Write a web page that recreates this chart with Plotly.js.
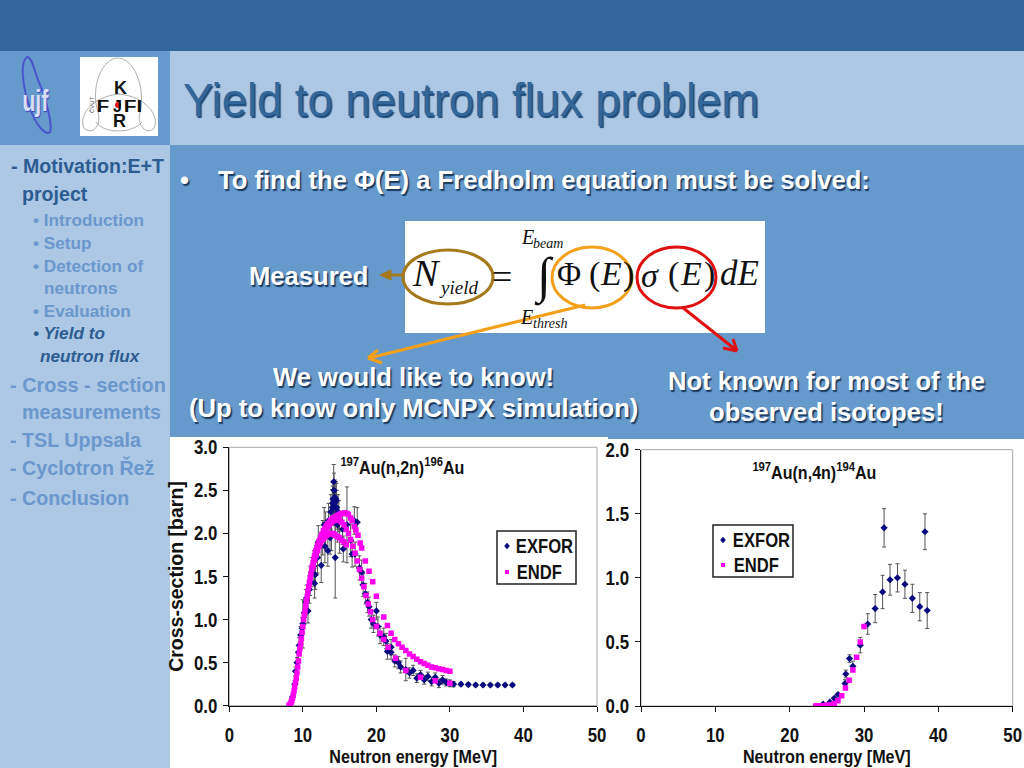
<!DOCTYPE html>
<html>
<head>
<meta charset="utf-8">
<script src="https://cdn.plot.ly/plotly-3.0.1.min.js"></script>
<style>html,body{margin:0;padding:0;background:#fff}#c{width:1024px;height:768px}</style>
</head>
<body>
<div id="c"></div>
<script>
// ---- Au(n,2n) EXFOR
const exfor1X = [8.3,8.6,8.9,9.0,9.2,9.4,9.5,9.7,9.9,10.0,10.2,10.4,10.5,10.7,10.9,11.0,11.2,11.5,11.6,11.7,12.0,12.1,12.5,12.7,12.9,13.0,13.1,13.4,13.5,13.7,13.8,13.9,14.0,14.05,14.1,14.15,14.2,14.25,14.3,14.35,14.4,14.4,14.45,14.5,14.55,14.6,14.7,14.8,14.9,15.0,15.4,15.5,16.0,16.5,16.7,17.0,17.1,17.4,17.7,18.0,18.2,18.5,18.8,19.0,19.3,19.6,20.0,20.2,20.5,21.0,21.3,21.5,22.0,22.0,22.5,23.0,23.3,24.0,24.5,25.0,25.5,26.0,26.5,27.0,27.5,28.0,28.5,29.0,29.5,30.0,30.5,31.5,32.5,33.5,34.5,35.5,36.5,37.5,38.5];
const exfor1Y = [0.02,0.10,0.25,0.40,0.50,0.62,0.70,0.82,0.90,0.95,1.08,1.20,1.25,1.10,1.35,1.45,1.55,1.62,1.42,1.52,1.72,1.90,1.63,1.95,2.10,1.85,2.05,1.80,2.15,1.95,2.25,2.00,2.30,2.35,2.40,2.30,2.60,2.50,2.35,2.42,2.20,1.72,2.30,2.40,2.38,2.30,2.10,2.25,2.20,1.95,2.05,1.82,2.10,1.92,1.76,2.15,1.76,2.13,1.60,1.55,1.40,1.30,1.20,1.15,1.00,0.95,1.10,0.92,0.82,0.80,0.75,0.63,0.62,0.68,0.52,0.50,0.45,0.42,0.38,0.41,0.32,0.36,0.30,0.34,0.28,0.33,0.26,0.30,0.27,0.26,0.25,0.25,0.245,0.24,0.24,0.24,0.24,0.24,0.24];
const exfor1Err = [0.01,0.02,0.04,0.05,0.06,0.08,0.09,0.10,0.12,0.28,0.14,0.15,0.15,0.14,0.16,0.17,0.17,0.18,0.17,0.17,0.18,0.19,0.20,0.20,0.20,0.19,0.20,0.18,0.20,0.19,0.20,0.20,0.21,0.20,0.20,0.20,0.20,0.20,0.20,0.20,0.20,0.47,0.20,0.20,0.20,0.20,0.20,0.20,0.18,0.18,0.18,0.15,0.44,0.19,0.15,0.16,0.14,0.17,0.14,0.14,0.13,0.12,0.12,0.11,0.10,0.10,0.10,0.11,0.10,0.10,0.09,0.09,0.08,0.09,0.07,0.07,0.07,0.13,0.06,0.06,0.05,0.05,0.05,0.05,0.05,0.05,0.05,0.05,0.04,0.04,0.03,0.02,0.02,0.02,0.02,0.02,0.02,0.02,0.02];
// ---- Au(n,2n) ENDF (three evaluations)
const endfUpperX = [8.1,8.2,8.3,8.4,8.5,8.6,8.7,8.8,8.9,9.0,9.1,9.2,9.3,9.4,9.5,9.6,9.7,9.8,9.9,10.0,10.1,10.2,10.3,10.4,10.5,10.6,10.7,10.8,10.9,11.0,11.1,11.2,11.3,11.4,11.5,11.6,11.7,11.8,11.9,12.0,12.2,12.4,12.6,12.8,13.0,13.2,13.4,13.6,13.8,14.0,14.2,14.4,14.6,14.8,15.0,15.2,15.4,15.7,16.0,16.2,16.5,16.7,17.0,17.2,17.5,17.8,18.0,18.5,19.0,19.5,20.0,21.0,21.5,22.0,22.5,23.0,23.5,24.0,24.5,25.0,25.5,26.0,26.5,27.0,27.5,28.0,28.5,29.0,29.5,30.0];
const endfUpperY = [0.00,0.01,0.02,0.04,0.06,0.09,0.13,0.17,0.22,0.27,0.32,0.38,0.45,0.52,0.60,0.66,0.72,0.78,0.85,0.92,1.00,1.05,1.10,1.16,1.22,1.27,1.33,1.38,1.43,1.48,1.53,1.58,1.62,1.66,1.70,1.74,1.77,1.80,1.83,1.86,1.91,1.95,1.99,2.03,2.06,2.09,2.11,2.13,2.15,2.17,2.18,2.19,2.20,2.21,2.22,2.23,2.23,2.24,2.23,2.22,2.18,2.15,2.08,2.04,1.98,1.89,1.83,1.68,1.56,1.44,1.27,1.03,0.93,0.84,0.77,0.72,0.68,0.64,0.60,0.57,0.54,0.51,0.49,0.47,0.45,0.44,0.43,0.42,0.41,0.40];
const endfMidX = [11.6,11.8,12.0,12.2,12.4,12.6,12.8,13.0,13.2,13.4,13.6,13.8,14.0,14.2,14.4,14.6,14.8,15.0,15.3,15.6,15.9,16.2,16.5,16.8,17.1,17.4,17.7,18.0,18.3,18.6,18.9,19.2,19.5,20.0,20.5,21.0,21.6,22.6,24.0,26.0,28.0,30.0];
const endfMidY = [1.72,1.79,1.84,1.89,1.93,1.97,2.00,2.03,2.05,2.08,2.10,2.12,2.14,2.15,2.16,2.16,2.16,2.15,2.13,2.10,2.05,2.00,1.93,1.85,1.77,1.68,1.58,1.48,1.38,1.28,1.18,1.09,1.00,0.92,0.84,0.77,0.68,0.55,0.41,0.33,0.29,0.26];
const endfLowerX = [11.4,11.6,11.8,12.0,12.2,12.4,12.6,12.8,13.0,13.2,13.4,13.6,13.8,14.0,14.2,14.4,14.6,14.8,15.0,15.3,15.6,15.9];
const endfLowerY = [1.62,1.69,1.75,1.80,1.85,1.89,1.92,1.94,1.96,1.98,1.99,2.00,2.00,2.00,1.99,1.98,1.97,1.96,1.95,1.92,1.90,1.87];
// ---- Au(n,4n)
const exfor2X = [24.5,25.4,26.0,26.5,27.45,27.55,28.05,28.5,29.5,30.5,31.5,32.5,32.7,33.5,34.5,35.5,36.5,37.5,38.2,38.5];
const exfor2Y = [0.015,0.03,0.06,0.09,0.175,0.25,0.37,0.31,0.475,0.64,0.76,0.89,1.39,0.985,1.00,0.95,0.84,0.775,1.36,0.745];
const exfor2Err = [0.005,0.005,0.01,0.01,0.03,0.03,0.03,0.04,0.06,0.08,0.11,0.13,0.15,0.12,0.11,0.11,0.11,0.11,0.14,0.14];
const endf2X = [23.5,23.75,24.0,24.25,24.5,24.75,25.0,25.5,26.0,26.5,27.0,27.5,28.0,28.5,29.0,29.5,30.0];
const endf2Y = [0.0,0.0,0.0,0.0,0.0,0.002,0.005,0.01,0.02,0.04,0.08,0.14,0.20,0.28,0.38,0.50,0.62];
// ---- Text
const seriesNames = ['EXFOR','ENDF'];
const xTitle = 'Neutron energy [MeV]';
const yTitle = 'Cross-section [barn]';
const slideTitle = 'Yield to neutron flux problem';
const bulletLine = 'To find the Φ(E) a Fredholm equation must be solved:';

const W=1024,H=768;
const px=x=>x/W, py=y=>1-y/H;
const SANS='"Liberation Sans", Arial, sans-serif';
const SERIF='"Liberation Serif", "Times New Roman", serif';
const NAVY='#0a0a80', MAG='#ff00f0', BLUE='#6699cc', LIGHT='#adc8e4';
const WSH='1.5px 1.5px 1px #1a3a60';
const BROWN='#a47a1c', ORANGE='#f5a01a', RED='#e01010';

const rect=(x0,y0,x1,y1,fill,lineCol,lw,layer)=>({type:'rect',xref:'paper',yref:'paper',x0:px(x0),x1:px(x1),y0:py(y1),y1:py(y0),fillcolor:fill,line:{width:lw||0,color:lineCol||fill},layer:layer||'below'});
const oval=(x0,y0,x1,y1,col,lw)=>({type:'circle',xref:'paper',yref:'paper',x0:px(x0),x1:px(x1),y0:py(y1),y1:py(y0),line:{width:lw,color:col},layer:'above'});
const P=(a,b)=>px(a).toFixed(5)+','+py(b).toFixed(5);
const curve=(d,col,lw,fill)=>({type:'path',xref:'paper',yref:'paper',path:d,line:{width:lw,color:col},fillcolor:fill||'rgba(0,0,0,0)',layer:'above'});
const seg=(a,b,c,d,col,w)=>({type:'line',xref:'paper',yref:'paper',x0:px(a),y0:py(b),x1:px(c),y1:py(d),line:{width:w,color:col},layer:'above'});
const keyDiamond=(x,y)=>curve('M'+P(x,y-3)+' L'+P(x+2.5,y)+' L'+P(x,y+3)+' L'+P(x-2.5,y)+' Z',NAVY,0.5,NAVY);
const keySquare=(x,y)=>rect(x-2,y-2,x+2,y+2,MAG,MAG,0,'above');

const shapes=[
 rect(0,0,1024,51,'#336699'),
 rect(0,51,170,145,BLUE),
 rect(170,51,1024,145,LIGHT),
 rect(0,145,170,768,LIGHT),
 rect(170,145,1024,437,BLUE),
 rect(608,437,1024,439,BLUE),
 rect(170,437,608,768,'#ffffff'),
 rect(608,439,1024,768,'#ffffff'),
 rect(229.3,447.3,597,705.7,'rgba(0,0,0,0)','#a8a8a8',1),
 rect(641,449.7,1012.7,706,'rgba(0,0,0,0)','#a8a8a8',1),
 rect(405,221,765,333,'#ffffff'),
 // legend boxes and keys
 rect(497,531,576,584,'#ffffff','#222',1.5,'above'),
 rect(713,525,793,577,'#ffffff','#222',1.5,'above'),
 keyDiamond(507,546), keySquare(507,572),
 keyDiamond(723,540), keySquare(723,565),
 // logos
 rect(80,57,158,136,'#ffffff'),
 curve('M'+P(118,58)+' C'+P(102,58)+' '+P(90,88)+' '+P(98,112)+' C'+P(102,126)+' '+P(92,136)+' '+P(84,128)+' C'+P(78,116)+' '+P(92,96)+' '+P(120,94),'#9a9a9a',0.8),
 curve('M'+P(118,58)+' C'+P(134,58)+' '+P(146,88)+' '+P(140,112)+' C'+P(136,126)+' '+P(148,136)+' '+P(154,128)+' C'+P(160,116)+' '+P(146,96)+' '+P(118,94),'#9a9a9a',0.8),
 curve('M'+P(96,122)+' C'+P(104,134)+' '+P(132,134)+' '+P(142,122),'#9a9a9a',0.8),
 curve('M'+P(27,57)+' C'+P(20,62)+' '+P(22,85)+' '+P(30,108)+' C'+P(36,126)+' '+P(46,136)+' '+P(50,132)+' C'+P(53,125)+' '+P(45,95)+' '+P(38,80)+' C'+P(34,68)+' '+P(31,56)+' '+P(27,57),'#4a55cc',2),
 // equation circles
 oval(403,250,493,304,BROWN,3),
 oval(552,247,632,308,ORANGE,3),
 oval(637,247,716,308,RED,3),
 // arrows
 seg(404,275,386,275,BROWN,3),
 curve('M'+P(380,275)+' L'+P(391,270)+' L'+P(391,280)+' Z',BROWN,1,BROWN),
 seg(585,305,369,358,ORANGE,3),
 seg(368,358,378,350,ORANGE,3),
 seg(368,358,382,363,ORANGE,3),
 seg(682,307,736,350,RED,3),
 seg(737,351,723,348,RED,3),
 seg(737,351,733,339,RED,3)
];

const T=(text,x,y,size,color,o)=>Object.assign({text,x:px(x),y:py(y),xref:'paper',yref:'paper',showarrow:false,xanchor:'left',yanchor:'middle',borderpad:0,font:{family:SANS,size,color}},o||{});
const B=(text,x,y,size,color,extra)=>{const a=T(text,x,y,size,color,extra&&extra.a);a.font.weight='bold';Object.assign(a.font,(extra&&extra.f)||{});return a;};
const SB={f:{shadow:WSH}};
const CEN={a:{xanchor:'center'},f:{shadow:WSH}};
const MC={a:{xanchor:'center'}};
const DK='#2c5c90', MID='#6a97cc';
const Q=(text,x,y,size)=>T(text,x,y,size,'#111',{font:{family:SERIF,size,color:'#111'}});

const annotations=[
 T(slideTitle,182,101,45.4,'#336699',{font:{family:SANS,size:45.4,color:'#336699',shadow:'1.5px 1.5px 1px #1d4a78'}}),
 // sidebar
 B('- Motivation:E+T',10,166,19.6,DK),
 B('project',21,194,19.6,DK),
 B('• Introduction',32,220,17.2,MID),
 B('• Setup',32,243,17.2,MID),
 B('• Detection of',32,266,17.2,MID),
 B('neutrons',43,288,17.2,MID),
 B('• Evaluation',32,311,17.2,MID),
 B('• Yield to',32,333,17.2,DK,{f:{style:'italic'}}),
 B('neutron flux',39,356,17.2,DK,{f:{style:'italic'}}),
 B('- Cross - section',9,385,19.9,MID),
 B('measurements',21,412,19.7,MID),
 B('- TSL Uppsala',9,440,19.7,MID),
 B('- Cyclotron Řež',9,467,19.7,MID),
 B('- Conclusion',9,498,19.7,MID),
 // main text
 B('•',179,180,25.6,'#ffffff',SB),
 B(bulletLine,217,180,25.6,'#ffffff',SB),
 B('Measured',248,276,25.6,'#ffffff',SB),
 B('We would like to know!',413.5,377,25.6,'#ffffff',CEN),
 B('(Up to know only MCNPX simulation)',413.5,408,25.6,'#ffffff',CEN),
 B('Not known for most of the',826.5,381,25.6,'#ffffff',CEN),
 B('observed isotopes!',826.5,412,25.6,'#ffffff',CEN),
 // equation
 Q('<i>N</i>',411,273,38),
 Q('<i>yield</i>',438,287,19),
 Q('=',491,277,36),
 Q('∫',533,277,50),
 Q('<i>E</i>',520,237,20),
 Q('<i>beam</i>',532,243,14),
 Q('<i>E</i>',519,317,20),
 Q('<i>thresh</i>',532,323,14),
 Q('Φ',556,274,33),
 Q('(',588,274,34),
 Q('<i>E</i>',599,274,34),
 Q(')',622,274,34),
 Q('<i>σ</i>',640,275,34),
 Q('(',667,274,34),
 Q('<i>E</i>',679,274,34),
 Q(')',703,274,34),
 Q('<i>dE</i>',719,274,35),
 // logos
 B('K',113,88,18,'#111'),
 B('F',97,107,16,'#111'),
 B('J',112,107,16,'#111'),
 B('FI',125,107,16,'#111'),
 B('R',112,121,18,'#111'),
 T('ČVUT',92,105,6,'#555',{textangle:-90,xanchor:'center'}),
 B('ujf',36,100,30,'#d7def5',{a:{xanchor:'center'},f:{shadow:'1px 1px 1px #3344bb'}}),
 // chart titles
 B('<sup>197</sup>Au(n,2n)<sup>196</sup>Au',402.5,466,19,'#111',MC),
 B('<sup>197</sup>Au(n,4n)<sup>194</sup>Au',814.5,471,19,'#111',MC),
 // legend text
 B(seriesNames[0],544,546,20,'#111',MC),
 B(seriesNames[1],538.5,572,20,'#111',MC),
 B(seriesNames[0],761,540,20,'#111',MC),
 B(seriesNames[1],755.5,565,20,'#111',MC)
];
// red dot of the KFJFI logo sits over its letters
shapes.push({type:'circle',xref:'paper',yref:'paper',x0:px(115),x1:px(121),y0:py(108),y1:py(102),fillcolor:'#e01818',line:{width:0},layer:'above'});

const errStyle={type:'data',visible:true,color:'#555',thickness:1,width:2};
const mExfor={symbol:'diamond',size:5.5,color:NAVY};
const mEndf={symbol:'square',size:5.5,color:MAG};
const endfLine=(xs,ys)=>({x:xs,y:ys,xaxis:'x',yaxis:'y',mode:'markers',type:'scatter',name:seriesNames[1],marker:mEndf});
const data=[
 {x:exfor1X,y:exfor1Y,xaxis:'x',yaxis:'y',mode:'markers',type:'scatter',name:seriesNames[0],marker:mExfor,error_y:Object.assign({array:exfor1Err},errStyle)},
 endfLine(endfUpperX,endfUpperY),
 endfLine(endfMidX,endfMidY),
 endfLine(endfLowerX,endfLowerY),
 {x:exfor2X,y:exfor2Y,xaxis:'x2',yaxis:'y2',mode:'markers',type:'scatter',name:seriesNames[0],marker:mExfor,error_y:Object.assign({array:exfor2Err},errStyle)},
 {x:endf2X,y:endf2Y,xaxis:'x2',yaxis:'y2',mode:'markers',type:'scatter',name:seriesNames[1],marker:mEndf}
];

const tickF={family:SANS,size:20,color:'#111',weight:'bold'};
const xAx=(l,r,anc)=>({domain:[px(l),px(r)],range:[0,50],dtick:10,tick0:0,anchor:anc,showgrid:false,zeroline:false,showline:true,linecolor:'#111',linewidth:1,ticks:'outside',ticklen:5,tickcolor:'#111',tickfont:tickF,ticklabelstandoff:6,title:{text:xTitle,font:{family:SANS,size:19,color:'#111',weight:'bold'},standoff:2}});
const yAx=(t,b,max,anc)=>({domain:[py(b),py(t)],range:[0,max],dtick:0.5,tick0:0,tickformat:'.1f',anchor:anc,showgrid:false,zeroline:false,showline:true,linecolor:'#111',linewidth:1,ticks:'outside',ticklen:5,tickcolor:'#111',tickfont:tickF,ticklabelstandoff:2});

const y1=yAx(447.3,705.7,3,'x');
y1.title={text:yTitle,font:{family:SANS,size:19.5,color:'#111',weight:'bold'},standoff:0};

const layout={
 width:W,height:H,margin:{l:0,r:0,t:0,b:0,pad:0},autosize:false,
 paper_bgcolor:'#ffffff',plot_bgcolor:'rgba(0,0,0,0)',
 showlegend:false,hovermode:false,
 xaxis:xAx(229.3,597,'y'),yaxis:y1,
 xaxis2:xAx(641,1012.7,'y2'),yaxis2:yAx(449.7,706,2,'x2'),
 shapes,annotations
};

// The reference sets its chart labels in a narrow bold face; squeeze the real text to match.
function squeeze(el,f){
 el.setAttribute('lengthAdjust','spacingAndGlyphs');
 el.setAttribute('textLength',(el.getComputedTextLength()*f).toFixed(1));
}
const narrowBy={'ujf':0.72,'EXFOR':0.83,'ENDF':0.83,'F':1.3,'FI':1.3};
Plotly.newPlot('c',data,layout,{staticPlot:true,displayModeBar:false}).then(gd=>{
 const q=s=>Array.from(gd.querySelectorAll(s));
 q('.xtick text,.x2tick text,.ytick text,.y2tick text').forEach(e=>squeeze(e,0.84));
 q('.xtitle,.x2title').forEach(e=>squeeze(e,0.85));
 q('.annotation-text').forEach(e=>{
  const t=e.textContent;
  if(/Au\(n/.test(t)) squeeze(e,0.845);
  else if(narrowBy[t]) squeeze(e,narrowBy[t]);
 });
});
</script>
</body>
</html>
